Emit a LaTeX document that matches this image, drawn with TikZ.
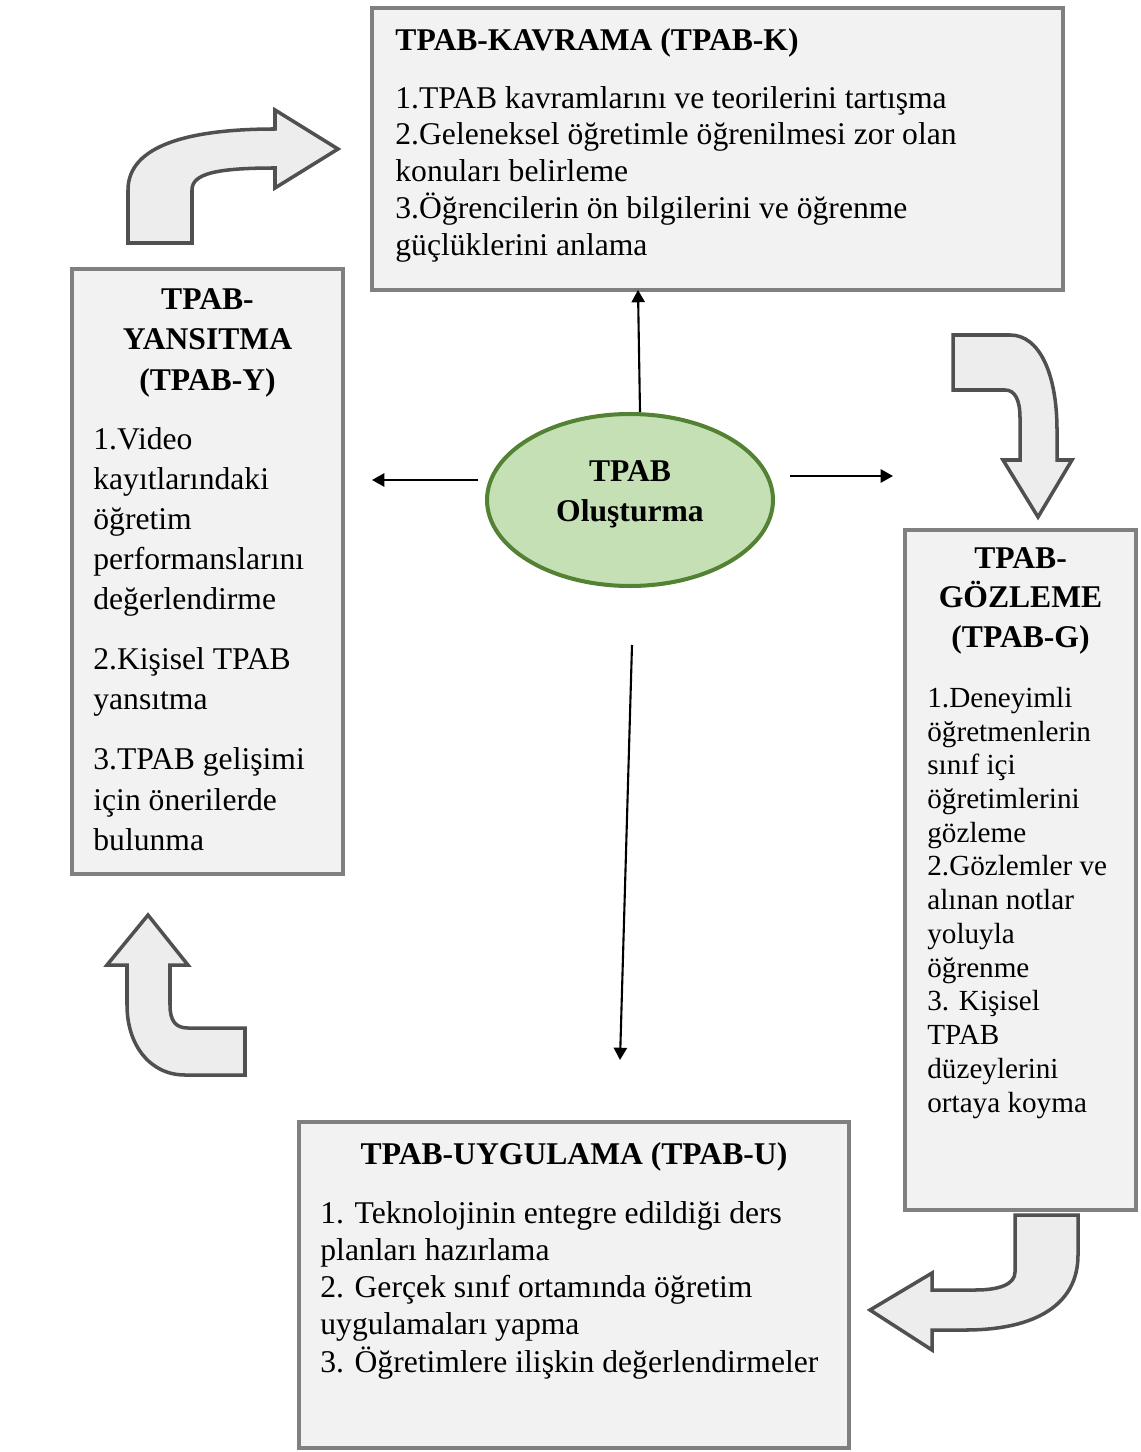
\documentclass[tikz,border=0pt]{standalone}
\usepackage{fontspec}
\setmainfont{Liberation Serif}
\usepackage{tikz}
\usetikzlibrary{positioning,calc,shapes.geometric,arrows.meta}
\definecolor{stageborder}{RGB}{128,128,128}
\definecolor{stagefill}{RGB}{242,242,242}
\definecolor{bentfill}{RGB}{237,237,237}
\definecolor{bentborder}{RGB}{80,80,80}
\definecolor{coregreen}{RGB}{84,130,53}
\definecolor{corefill}{RGB}{197,224,180}
\tikzset{
    stage box/.style={
        rectangle,
        draw=stageborder,
        fill=stagefill,
        line width=2.3pt,
        inner sep=0pt,
        outer sep=0pt
    },
    % multi-line nodes sit on the baseline of their last line
    stage title/.style={font=\bfseries\fontsize{18}{#1}\selectfont, align=center, inner sep=0pt, anchor=base},
    stage text/.style={font=\fontsize{18}{#1}\selectfont, align=left, inner sep=0pt, anchor=base west},
    core/.style={
        ellipse,
        draw=coregreen,
        fill=corefill,
        line width=2.3pt,
        inner sep=0pt,
        align=center,
        font=\bfseries\fontsize{18}{22.8}\selectfont
    },
    bent arrow/.style={draw=bentborder, fill=bentfill, line width=2pt, line join=miter},
    link/.style={-{Triangle[length=7pt,width=7.5pt]}, line width=1.2pt}
}

\begin{document}
\begin{tikzpicture}[x=0.02cm,y=-0.02cm]
    \useasboundingbox (0,0) rectangle (1140,1452);

    % the four stages
    \node[stage box, minimum width=13.82cm, minimum height=5.64cm] (kavrama) at (717.5,149) {};
    \node[stage box, minimum width=5.42cm, minimum height=12.1cm] (yansitma) at (207.5,571.5) {};
    \node[stage box, minimum width=4.62cm, minimum height=13.6cm] (gozleme) at (1020.5,870) {};
    \node[stage box, minimum width=11cm, minimum height=6.52cm] (uygulama) at (574,1285) {};

    \node[stage title=22.8pt, anchor=base west] (kavrama-title) at ($(kavrama.north west)+(23,42)$) {TPAB-KAVRAMA (TPAB-K)};
    \node[stage text=20.9pt] (kavrama-body) at ($(kavrama.north west)+(23,247)$) {1.TPAB kavramlarını ve teorilerini tartışma\\2.Geleneksel öğretimle öğrenilmesi zor olan\\konuları belirleme\\3.Öğrencilerin ön bilgilerini ve öğrenme\\güçlüklerini anlama};

    \node[stage title=22.8pt] (yansitma-title) at ($(yansitma.north)+(0,121)$) {TPAB-\\YANSITMA\\(TPAB-Y)};
    \node[stage text=22.8pt] (yansitma-body) at ($(yansitma.north west)+(21,581)$) {1.Video\\kayıtlarındaki\\öğretim\\performanslarını\\değerlendirme\\[11.4pt]2.Kişisel TPAB\\yansıtma\\[11.4pt]3.TPAB gelişimi\\için önerilerde\\bulunma};

    \node[stage title=22.5pt] (gozleme-title) at ($(gozleme.north)+(0,117)$) {TPAB-\\GÖZLEME\\(TPAB-G)};
    \node[stage text=19.2pt, font=\fontsize{16.6}{19.2}\selectfont] (gozleme-body) at ($(gozleme.north west)+(22,582)$) {1.Deneyimli\\öğretmenlerin\\sınıf içi\\öğretimlerini\\gözleme\\2.Gözlemler ve\\alınan notlar\\yoluyla\\öğrenme\\3. Kişisel\\TPAB\\düzeylerini\\ortaya koyma};

    \node[stage title=22.8pt] (uygulama-title) at ($(uygulama.north)+(0,42)$) {TPAB-UYGULAMA (TPAB-U)};
    \node[stage text=21.1pt] (uygulama-body) at ($(uygulama.north west)+(21,250)$) {1. Teknolojinin entegre edildiği ders\\planları hazırlama\\2. Gerçek sınıf ortamında öğretim\\uygulamaları yapma\\3. Öğretimlere ilişkin değerlendirmeler};

    % bent arrows round the cycle
    \draw[bent arrow] (128,243) -- (128,190) .. controls (128,145) and (190,129) .. (275,129) -- (275,110) -- (338,149) -- (275,188) -- (275,168) .. controls (215,168) and (192,174) .. (192,190) -- (192,243) -- cycle;
    \draw[bent arrow] (953,335) -- (1010,335) .. controls (1040,335) and (1057,375) .. (1057,430) -- (1057,460) -- (1072,460) -- (1038,517) -- (1003,460) -- (1020,460) -- (1020,418) .. controls (1020,400) and (1015,390) .. (1005,390) -- (953,390) -- cycle;
    \draw[bent arrow] (1015,1215) -- (1015,1272) .. controls (1015,1284) and (1000,1290) .. (975,1290) -- (932,1290) -- (932,1273) -- (870,1310) -- (932,1350) -- (932,1330) -- (965,1330) .. controls (1035,1330) and (1078,1305) .. (1078,1255) -- (1078,1215) -- cycle;
    \draw[bent arrow] (148,915) -- (188,965) -- (170,965) -- (170,1005) .. controls (170,1020) and (175,1028) .. (188,1028) -- (245,1028) -- (245,1075) -- (185,1075) .. controls (150,1075) and (127,1045) .. (127,1005) -- (127,965) -- (107,965) -- cycle;

    % centre and its links
    \node[core, minimum width=5.72cm, minimum height=3.44cm, text depth=0.34cm] (tpab) at (630,500) {TPAB\\Oluşturma};

    \coordinate (to-yansitma) at (372,480);
    \coordinate (from-left) at (478,480);
    \coordinate (from-right) at (790,476);
    \coordinate (to-gozleme) at (893,476);
    \coordinate (from-below) at (632,645);
    \coordinate (to-uygulama) at (620,1060);

    \draw[link] ([xshift=0.2cm]tpab.north) -- ([xshift=0.16cm]tpab.north |- kavrama.south);
    \draw[link] (from-left) -- (to-yansitma);
    \draw[link] (from-right) -- (to-gozleme);
    \draw[link] (from-below) -- (to-uygulama);
\end{tikzpicture}
\end{document}
